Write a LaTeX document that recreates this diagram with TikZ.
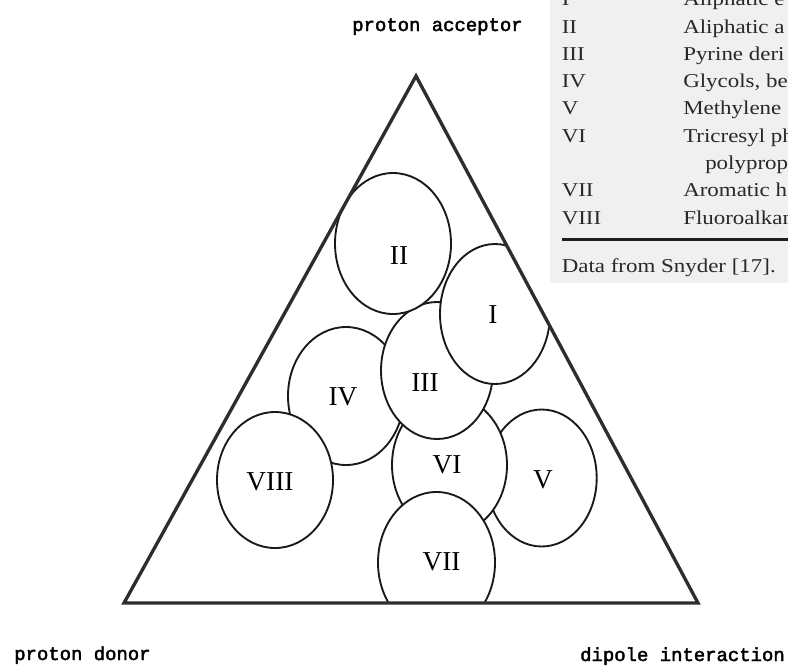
\documentclass[tikz,border=0pt]{standalone}
\usepackage{fontspec}
\setmainfont{Liberation Serif}
\newfontfamily\cornerfont[FakeBold=2.2]{Liberation Mono}
\newfontfamily\tablefont[FakeStretch=1.17]{Liberation Serif}
\usepackage{tikz}

\begin{document}
\begin{tikzpicture}[x=0.75pt,y=0.75pt,yscale=-1,xscale=1,
    region/.style={draw={rgb, 255:red, 25; green, 25; blue, 25 },line width=1.4pt,fill=white},
    regionlabel/.style={inner sep=0.75pt,font=\fontsize{20.5}{24}\selectfont},
    cornerlabel/.style={inner sep=0.75pt,font=\cornerfont\fontsize{14.2}{17}\selectfont},
    rowlabel/.style={anchor=base west,inner sep=0pt,font=\tablefont\fontsize{14.7}{17}\selectfont,color={rgb, 255:red, 40; green, 40; blue, 40 }}]
    \useasboundingbox (0,0) rectangle (788,669);
    \clip (0,0) rectangle (788,669);

    %Shape: Rectangle (table panel)
    \fill [color={rgb, 255:red, 240; green, 240; blue, 240 }] (550,0) rectangle (788,283);

    %Triangle corners
    \coordinate (acc) at (416,76);
    \coordinate (don) at (124,603);
    \coordinate (dip) at (698,603);

    \begin{scope}
    \clip (acc) -- (don) -- (dip) -- cycle;
    %Shape: Ellipse V
    \draw [region] (541.7,478) ellipse [x radius=55, y radius=68.5];
    %Shape: Ellipse IV
    \draw [region] (346,396) ellipse [x radius=58, y radius=69];
    %Shape: Ellipse VIII
    \draw [region] (275,480) ellipse [x radius=58, y radius=68];
    %Shape: Ellipse VI
    \draw [region] (449.5,465) ellipse [x radius=57.5, y radius=69];
    %Shape: Ellipse III
    \draw [region] (437,370.5) ellipse [x radius=56, y radius=68.5];
    %Shape: Ellipse II
    \draw [region] (393,243.5) ellipse [x radius=58, y radius=70.5];
    %Shape: Ellipse I
    \draw [region] (495,314) ellipse [x radius=55, y radius=70];
    %Shape: Ellipse VII
    \draw [region] (436.5,562.5) ellipse [x radius=58.5, y radius=70.5];
    \end{scope}

    %Shape: Triangle
    \draw [color={rgb, 255:red, 45; green, 45; blue, 45 },line width=2.5pt,line join=miter] (acc) -- (don) -- (dip) -- cycle;

    % Text Node
    \node [regionlabel] (labI) at (493,315) {I};
    % Text Node
    \node [regionlabel] (labII) at (399,256) {II};
    % Text Node
    \node [regionlabel] (labIII) at (425,383) {III};
    % Text Node
    \node [regionlabel] (labIV) at (343,397) {IV};
    % Text Node
    \node [regionlabel] (labV) at (543,480) {V};
    % Text Node
    \node [regionlabel] (labVI) at (447,465) {VI};
    % Text Node
    \node [regionlabel] (labVII) at (441.5,562) {VII};
    % Text Node
    \node [regionlabel] (labVIII) at (270,482) {VIII};

    % Text Node
    \node [cornerlabel,anchor=base west] (accLab) at (351,31) {proton acceptor};
    % Text Node
    \node [cornerlabel,anchor=base west] (donLab) at (13,660) {proton donor};
    % Text Node
    \node [cornerlabel,anchor=base east] (dipLab) at (786,661) {dipole interaction};

    % Table rows
    \node [rowlabel] (rowI) at (561.5,5.7) {I};
    \node [rowlabel] (txtI) at (683,5.7) {Aliphatic e};
    \node [rowlabel] (rowII) at (561.5,33) {II};
    \node [rowlabel] (txtII) at (683,33) {Aliphatic a};
    \node [rowlabel] (rowIII) at (561.5,60.3) {III};
    \node [rowlabel] (txtIII) at (683,60.3) {Pyrine deri};
    \node [rowlabel] (rowIV) at (561.5,87.6) {IV};
    \node [rowlabel] (txtIV) at (683,87.6) {Glycols, be};
    \node [rowlabel] (rowV) at (561.5,114.9) {V};
    \node [rowlabel] (txtV) at (683,114.9) {Methylene};
    \node [rowlabel] (rowVI) at (561.5,142.2) {VI};
    \node [rowlabel] (txtVI) at (683,142.2) {Tricresyl ph};
    \node [rowlabel] (txtVIb) at (705,169.5) {polyprop};
    \node [rowlabel] (rowVII) at (561.5,196.8) {VII};
    \node [rowlabel] (txtVII) at (683,196.8) {Aromatic h};
    \node [rowlabel] (rowVIII) at (561.5,224.1) {VIII};
    \node [rowlabel] (txtVIII) at (683,224.1) {Fluoroalkan};

    %Straight Lines (table rule)
    \draw [color={rgb, 255:red, 30; green, 30; blue, 30 },line width=2pt] (561.5,239.5) -- (788,239.5);
    % Text Node
    \node [rowlabel] (source) at (561.5,272) {Data from Snyder [17].};

\end{tikzpicture}
\end{document}
